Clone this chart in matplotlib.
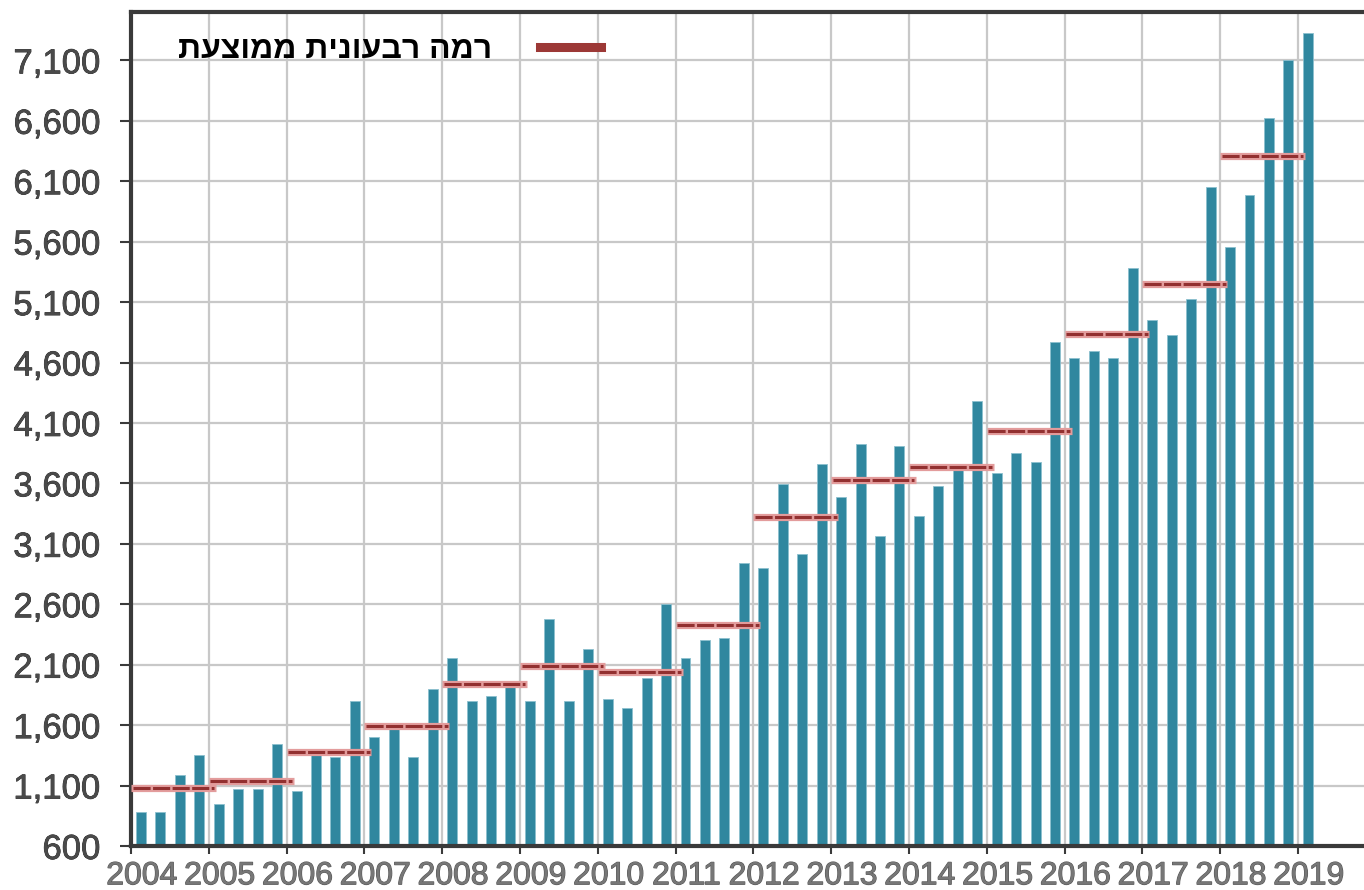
import numpy as np
import matplotlib
matplotlib.use("Agg")
import matplotlib.pyplot as plt
import matplotlib.patheffects as pe
from matplotlib.lines import Line2D
from matplotlib.ticker import FixedLocator, FuncFormatter

# ---- data ----
years = list(range(2004, 2020))
quarterly_values = [
    880, 880, 1190, 1350,
    945, 1070, 1070, 1445,
    1055, 1360, 1335, 1800,
    1500, 1565, 1335, 1895,
    2155, 1800, 1840, 1930,
    1800, 2475, 1800, 2230,
    1820, 1745, 1990, 2605,
    2155, 2305, 2325, 2940,
    2900, 3595, 3015, 3760,
    3485, 3930, 3165, 3910,
    3330, 3575, 3710, 4285,
    3685, 3855, 3780, 4770,
    4640, 4695, 4640, 5385,
    4955, 4825, 5125, 6055,
    5555, 5985, 6620, 7105,
    7330,
]
avg_years = list(range(2004, 2019))
avg_values = [1082, 1140, 1380, 1590, 1942, 2091, 2036, 2430,
              3323, 3627, 3734, 4035, 4837, 5248, 6312]
y_ticks = list(range(600, 7101, 500))
legend_label = "רמה רבעונית ממוצעת"

# ---- style ----
BAR = "#30879f"
DARK_RED = "#923030"
HALO = "#e39c9c"
GRID = "#c8c8c8"
SPINE = "#3a3a3a"

plt.rcParams["font.family"] = ["Liberation Sans", "DejaVu Sans"]

fig = plt.figure(figsize=(13.64, 8.9), dpi=100)
ax = fig.add_axes([131 / 1364, 44 / 890, 1 - 131 / 1364, (846 - 12) / 890])

n = len(quarterly_values)
x = years[0] + 0.128 + 0.25 * np.arange(n)
ax.bar(x, quarterly_values, width=0.128, bottom=0, color=BAR,
       edgecolor="#8cc0cf", linewidth=0.6, zorder=2)

for yr, v in zip(avg_years, avg_values):
    ax.plot([yr, yr + 1.09], [v, v], color=HALO, lw=5.2,
            solid_capstyle="butt", zorder=3)
    ax.plot([yr + 0.02, yr + 1.07], [v, v], color=DARK_RED, lw=2.2,
            dashes=(5.6, 0.8), dash_capstyle="butt", zorder=4)

ax.set_xlim(years[0], 2019.85)
ax.set_ylim(600, 7500)

# grid
ax.set_axisbelow(True)
ax.set_yticks(y_ticks)
ax.yaxis.set_major_formatter(FuncFormatter(lambda v, p: f"{int(v):,}"))
ax.xaxis.set_major_locator(FixedLocator(years))
ax.xaxis.set_minor_locator(FixedLocator([y + 0.14 for y in years]))
ax.xaxis.set_major_formatter(FuncFormatter(lambda v, p: ""))
ax.xaxis.set_minor_formatter(FuncFormatter(lambda v, p: f"{int(round(v - 0.14))}"))
ax.grid(True, which="major", color=GRID, lw=1.6)

ax.tick_params(axis="y", which="major", length=8, width=1.5, color=SPINE,
               pad=14, labelsize=25, labelcolor="#4a4a4a")
ax.tick_params(axis="x", which="major", length=6, width=1.5, color=SPINE)
ax.tick_params(axis="x", which="minor", length=0, pad=11, labelsize=23,
               labelcolor="#777777")

for lab in ax.get_yticklabels():
    lab.set_path_effects([pe.withStroke(linewidth=0.5, foreground="#1a1a1a")])
for lab in ax.get_xticklabels(minor=True):
    lab.set_path_effects([pe.withStroke(linewidth=0.8, foreground="#555555")])

for side in ["left", "bottom", "top"]:
    ax.spines[side].set_color(SPINE)
    ax.spines[side].set_linewidth(3)
ax.spines["right"].set_visible(False)

handle = Line2D([], [], color="#9c3836", lw=6.5)
leg = ax.legend([handle], [legend_label[::-1]], loc="upper left",
                bbox_to_anchor=(178 / 1364, 1 - 35 / 890),
                bbox_transform=fig.transFigure, markerfirst=False,
                frameon=False, borderpad=0, borderaxespad=0,
                handlelength=1.9, handletextpad=1.5,
                prop=dict(weight="bold", size=23,
                          family=["Liberation Sans", "DejaVu Sans"]))

fig.savefig("out.png", dpi=100)
